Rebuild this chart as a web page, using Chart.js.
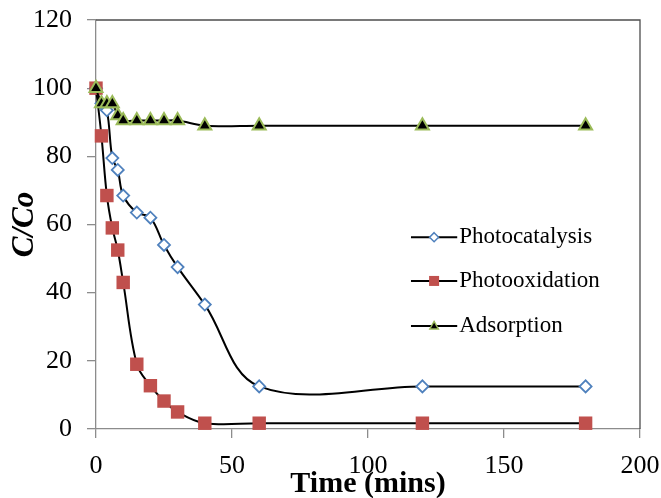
<!DOCTYPE html>
<html>
<head>
<meta charset="utf-8">
<script src="https://cdn.jsdelivr.net/npm/chart.js@4/dist/chart.umd.min.js"></script>
<style>
  html, body { margin: 0; padding: 0; background: #fff; }
  #wrap { width: 661px; height: 498px; }
</style>
</head>
<body>
<div id="wrap"><canvas id="myChart" width="661" height="498"></canvas></div>
<script>
// time in minutes
const times = [0, 2, 4, 6, 8, 10, 15, 20, 25, 30, 40, 60, 120, 180];
const photocatalysis = [100, 95.5, 93.5, 79.5, 76, 68.5, 63.5, 62, 54, 47.5, 36.5, 12.5, 12.5, 12.5];
const photooxidation = [100, 86, 68.5, 59, 52.5, 43, 19, 12.7, 8.2, 5, 1.7, 1.7, 1.7, 1.7];
const adsorption = [100, 95.5, 95.5, 95.5, 92, 90.5, 90.5, 90.5, 90.5, 90.5, 89, 89, 89, 89];
const seriesNames = ['Photocatalysis', 'Photooxidation', 'Adsorption'];
const yTicks = [0, 20, 40, 60, 80, 100, 120];
const xTicks = [0, 50, 100, 150, 200];

const serif = "'Liberation Serif', 'Times New Roman', serif";

function pts(vals) {
  return vals.map((v, i) => ({ x: times[i], y: v }));
}

const lineStyle = {
  borderColor: '#000',
  borderWidth: 2,
  tension: 0.36,
  fill: false,
  clip: false
};

// legend drawn inside the plot, with the marker sitting on the line
const insideLegend = {
  id: 'insideLegend',
  afterDraw(chart) {
    const ctx = chart.ctx;
    const a = chart.chartArea;
    const w = a.right - a.left, h = a.bottom - a.top;
    const x0 = a.left + w * 0.579, x1 = a.left + w * 0.664;
    const mx = (x0 + x1) / 2;
    const rows = [a.top + h * 0.531, a.top + h * 0.638, a.top + h * 0.748];
    ctx.save();
    rows.forEach((y, k) => {
      ctx.strokeStyle = '#000';
      ctx.lineWidth = 2;
      ctx.beginPath(); ctx.moveTo(x0, y); ctx.lineTo(x1, y); ctx.stroke();
      if (k === 0) {
        ctx.fillStyle = '#fff'; ctx.strokeStyle = '#4f81bd'; ctx.lineWidth = 1.5;
        ctx.beginPath();
        ctx.moveTo(mx, y - 4.5); ctx.lineTo(mx + 4.5, y); ctx.lineTo(mx, y + 4.5); ctx.lineTo(mx - 4.5, y);
        ctx.closePath(); ctx.fill(); ctx.stroke();
      } else if (k === 1) {
        ctx.fillStyle = '#c0504d';
        ctx.fillRect(mx - 5, y - 5, 10, 10);
      } else {
        ctx.fillStyle = '#000'; ctx.strokeStyle = '#9bbb59'; ctx.lineWidth = 1.4;
        ctx.beginPath();
        ctx.moveTo(mx, y - 4.5); ctx.lineTo(mx + 4.3, y + 3); ctx.lineTo(mx - 4.3, y + 3);
        ctx.closePath(); ctx.fill(); ctx.stroke();
      }
      ctx.fillStyle = '#000';
      ctx.font = '23px ' + serif;
      ctx.textAlign = 'left';
      ctx.textBaseline = 'middle';
      ctx.fillText(seriesNames[k], x1 + 2, y);
    });
    ctx.restore();
  }
};

// darker frame on top and right of the plot area
const frame = {
  id: 'frame',
  beforeDatasetsDraw(chart) {
    const ctx = chart.ctx, a = chart.chartArea;
    ctx.save();
    ctx.strokeStyle = '#4d4d4d';
    ctx.lineWidth = 1.3;
    ctx.beginPath();
    ctx.moveTo(a.left, a.top); ctx.lineTo(a.right, a.top); ctx.lineTo(a.right, a.bottom);
    ctx.stroke();
    ctx.restore();
  }
};

const ctx = document.getElementById('myChart').getContext('2d');
const myChart = new Chart(ctx, {
  type: 'line',
  data: {
    datasets: [{
        ...lineStyle,
        label: seriesNames[0],
        order: 2,
        data: pts(photocatalysis),
        pointStyle: 'rectRot',
        pointRadius: 6,
        pointBorderWidth: 1.8,
        pointBorderColor: '#4f81bd',
        pointBackgroundColor: '#fff'
      }, {
        ...lineStyle,
        label: seriesNames[1],
        order: 1,
        data: pts(photooxidation),
        pointStyle: 'rect',
        pointRadius: 9.5,
        pointBorderWidth: 0,
        pointBorderColor: '#c0504d',
        pointBackgroundColor: '#c0504d'
      }, {
        ...lineStyle,
        label: seriesNames[2],
        order: 0,
        data: pts(adsorption),
        pointStyle: 'triangle',
        pointRadius: 7.5,
        pointBorderWidth: 2,
        pointBorderColor: '#9bbb59',
        pointBackgroundColor: '#000'
      }
    ]
  },
  options: {
    responsive: false,
    animation: false,
    layout: { padding: { top: 20, right: 21, left: 0, bottom: 0 } },
    plugins: { legend: { display: false }, tooltip: { enabled: false } },
    scales: {
      x: {
        type: 'linear',
        min: 0, max: 200,
        afterFit(s) { s.height = 69; s.paddingLeft = 0; s.paddingRight = 0; },
        afterBuildTicks(s) { s.ticks = xTicks.map(v => ({ value: v })); },
        border: { color: '#8c8c8c', width: 1.3 },
        grid: { drawOnChartArea: false, drawTicks: true, tickLength: 9, color: '#8c8c8c', lineWidth: 1.3 },
        ticks: { color: '#000', padding: 13, maxRotation: 0, font: { family: serif, size: 26 } },
        title: { display: true, text: 'Time (mins)', color: '#000', padding: 0,
                 font: { family: serif, size: 30, weight: 'bold', lineHeight: 0.9 } }
      },
      y: {
        min: 0, max: 120,
        afterFit(s) { s.width = 96; s.paddingTop = 0; s.paddingBottom = 0; },
        afterBuildTicks(s) { s.ticks = yTicks.map(v => ({ value: v })); },
        border: { color: '#8c8c8c', width: 1.3 },
        grid: { drawOnChartArea: false, drawTicks: true, tickLength: 9, color: '#8c8c8c', lineWidth: 1.3 },
        ticks: { color: '#000', padding: 15, font: { family: serif, size: 26 } },
        title: { display: true, text: 'C/Co', color: '#000', padding: { top: 9, bottom: 0 },
                 font: { family: serif, size: 31, weight: 'bold', style: 'italic', lineHeight: 1 } }
      }
    }
  },
  plugins: [frame, insideLegend]
});
</script>
</body>
</html>
